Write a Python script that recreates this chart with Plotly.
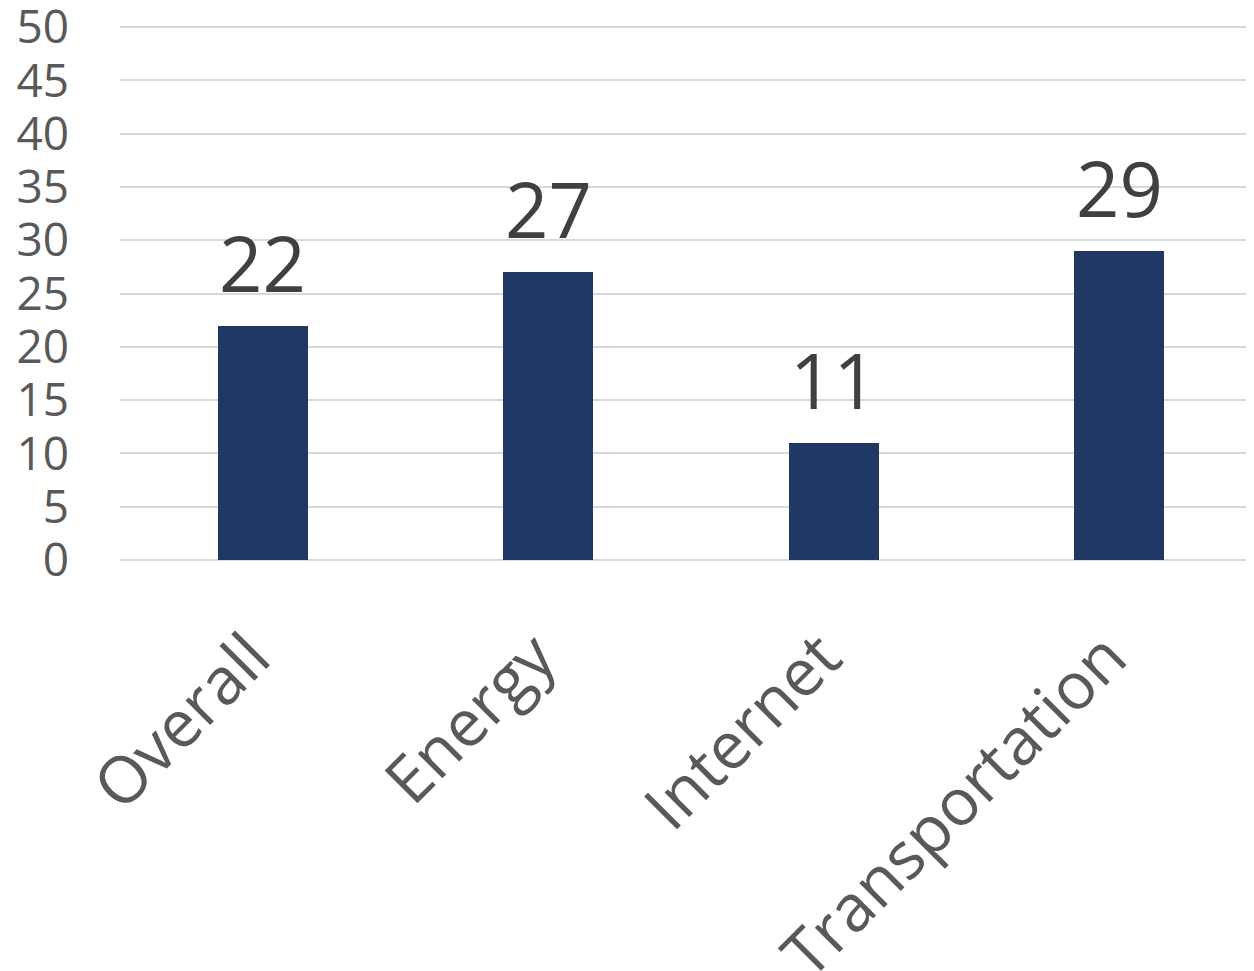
import plotly.graph_objects as go

categories = ["Overall", "Energy", "Internet", "Transportation"]
values = [22, 27, 11, 29]
y_ticks = [0, 5, 10, 15, 20, 25, 30, 35, 40, 45, 50]

FONT = "Open Sans"
NBSP = "\u00a0"

fig = go.Figure(go.Bar(
    x=categories,
    y=values,
    width=0.315,
    marker=dict(color="#203864", line=dict(width=0)),
    cliponaxis=False,
))

for c, v in zip(categories, values):
    fig.add_annotation(
        x=c, y=v, xref="x", yref="y",
        text=str(v), showarrow=False,
        yanchor="bottom", yshift=10,
        font=dict(family=FONT, size=76, color="#404040"),
    )

# page body has an 8px margin, so figure is sized/offset to compensate
fig.update_layout(
    width=1246,
    height=963,
    margin=dict(l=112, r=0, t=16, b=411, autoexpand=False),
    paper_bgcolor="white",
    plot_bgcolor="white",
    showlegend=False,
    bargap=0,
    xaxis=dict(
        range=[-0.5, 3.472],
        tickmode="array",
        tickvals=categories,
        ticktext=[c + NBSP for c in categories],
        tickangle=-45,
        tickfont=dict(family=FONT, size=65, color="#595959"),
        showgrid=False,
        showline=False,
        ticks="",
        ticklabelstandoff=33,
        automargin=False,
    ),
    yaxis=dict(
        range=[0, 50.3],
        tickmode="array",
        tickvals=y_ticks,
        ticktext=[str(t) for t in y_ticks],
        tickfont=dict(family=FONT, size=46, color="#595959"),
        ticklabeloverflow="allow",
        gridcolor="#d9d9d9",
        gridwidth=2,
        zeroline=True,
        zerolinecolor="#d9d9d9",
        zerolinewidth=2,
        showline=False,
        ticks="",
        ticklabelstandoff=50,
        automargin=False,
    ),
)

fig.write_html("out.html")
